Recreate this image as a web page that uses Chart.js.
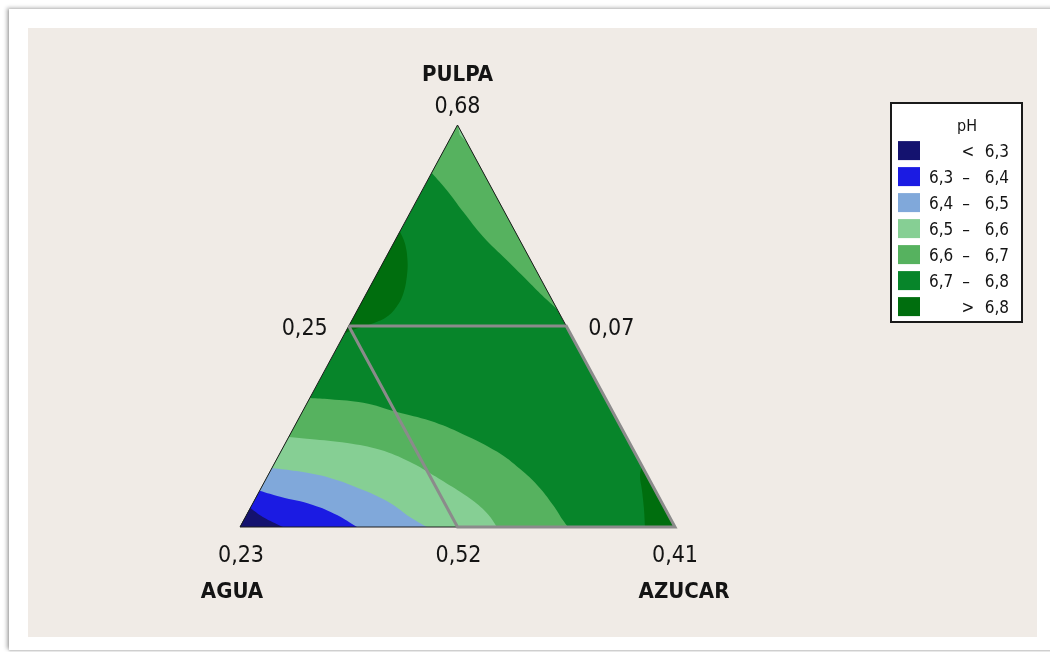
<!DOCTYPE html>
<html>
<head>
<meta charset="utf-8">
<script src="https://cdn.jsdelivr.net/npm/chart.js@4.4.1/dist/chart.umd.min.js"></script>
<style>
  html, body { margin: 0; padding: 0; background: #fff; width: 1050px; height: 652px; overflow: hidden; }
  #frame { position: absolute; left: 9px; top: 9px; width: 1060px; height: 641px; background: #fff;
           box-shadow: -2px -1px 4px rgba(0,0,0,0.32), 0 1px 2px rgba(0,0,0,0.18); }
  #panel { position: absolute; left: 28px; top: 28px; width: 1009px; height: 609px; background: #f0ebe6; }
  canvas { position: absolute; left: 0; top: 0; }
</style>
</head>
<body>
<div id="frame"></div>
<div id="panel"></div>
<canvas id="chart" width="1050" height="652"></canvas>
<script>
// Mixture components: top, bottom-left and bottom-right vertex
const components = ['PULPA', 'AGUA', 'AZUCAR'];
const vertexValues = ['0,68', '0,23', '0,41'];
// Edge midpoints: PULPA–AGUA, PULPA–AZUCAR, AGUA–AZUCAR
const edgeValues = ['0,25', '0,07', '0,52'];

// pH contour classes
const phBreaks = ['6,3', '6,4', '6,5', '6,6', '6,7', '6,8'];
const phColors = ['#14126f', '#1b1be3', '#80a8da', '#86cf94', '#56b25f', '#07852a', '#006e0e'];

// Contour lines of the fitted pH surface as [PULPA, AZUCAR] pseudo-component
// fractions (AGUA = 1 - PULPA - AZUCAR)
const ph66Top = [[0.881, 0], [0.838, 0.056], [0.784, 0.121], [0.722, 0.198], [0.664, 0.281],
                 [0.606, 0.364], [0.565, 0.423], [0.540, 0.460]];
const ph65Top = [[0.958, 0.042], [0.975, 0.018]];
const ph68Left = [[0.735, 0], [0.706, 0.026], [0.664, 0.053], [0.623, 0.072], [0.581, 0.085],
                  [0.548, 0.086], [0.523, 0.076], [0.507, 0.053], [0.494, 0.021], [0.482, 0]];
const ph67Agua = [[0.321, 0], [0.318, 0.048], [0.309, 0.129], [0.286, 0.218], [0.264, 0.305],
                  [0.231, 0.397], [0.187, 0.498], [0.144, 0.572], [0.102, 0.634], [0.055, 0.692],
                  [0.017, 0.734], [0, 0.754]];
const ph66Agua = [[0.224, 0], [0.219, 0.051], [0.209, 0.142], [0.192, 0.226], [0.162, 0.310],
                  [0.134, 0.370], [0.100, 0.438], [0.067, 0.500], [0.032, 0.554], [0, 0.591]];
const ph65Agua = [[0.147, 0], [0.139, 0.061], [0.122, 0.146], [0.092, 0.237], [0.060, 0.315],
                  [0.025, 0.378], [0, 0.430]];
const ph64Agua = [[0.090, 0], [0.075, 0.055], [0.055, 0.140], [0.030, 0.208], [0, 0.269]];
const ph63Agua = [[0.047, 0], [0.025, 0.040], [0, 0.099]];
const ph68Azucar = [[0.152, 0.848], [0.129, 0.855], [0.092, 0.878], [0.047, 0.905], [0, 0.931]];

// Constrained design region inside the simplex
const designRegion = [[0.5, 0], [0.5, 0.5], [0, 1], [0, 0.5], [0.5, 0]];

const V = { PULPA: [1, 0], AGUA: [0, 0], AZUCAR: [0, 1] };
const FONT = '"DejaVu Sans Condensed", "DejaVu Sans", sans-serif';

// Ternary composition -> plane coordinates (AGUA left, AZUCAR right, PULPA top)
const toXY = ([p, a]) => ({ x: a + p / 2, y: p });

// Repeating the end points of a contour keeps the spline straight where it
// runs along a triangle edge and smooth in the interior
const ends = line => [line[0], ...line, line[line.length - 1]];

// Filled contour bands, painted from bottom to top
const layers = [
  { c: 5, pts: [V.PULPA, V.AGUA, V.AZUCAR], t: 0 },
  { c: 4, pts: [V.PULPA, ...ends(ph66Top)], t: 0.4 },
  { c: 3, pts: [V.PULPA, ...ph65Top], t: 0 },
  { c: 6, pts: ends(ph68Left), t: 0.4 },
  { c: 4, pts: [V.AGUA, ...ends(ph67Agua)], t: 0.4 },
  { c: 3, pts: [V.AGUA, ...ends(ph66Agua)], t: 0.4 },
  { c: 2, pts: [V.AGUA, ...ends(ph65Agua)], t: 0.4 },
  { c: 1, pts: [V.AGUA, ...ends(ph64Agua)], t: 0.4 },
  { c: 0, pts: [V.AGUA, ...ends(ph63Agua)], t: 0.4 },
  { c: 6, pts: [...ends(ph68Azucar), V.AZUCAR], t: 0.4 }
];

const datasets = layers.map((l, i) => ({
  data: l.pts.map(toXY),
  showLine: true,
  fill: 'shape',
  backgroundColor: phColors[l.c],
  borderColor: 'rgba(0,0,0,0)',
  borderWidth: 0,
  pointRadius: 0,
  tension: l.t,
  order: 100 - i
}));

datasets.push({
  data: [V.PULPA, V.AGUA, V.AZUCAR, V.PULPA].map(toXY),
  showLine: true, fill: false, borderColor: '#1c1c1c', borderWidth: 1,
  pointRadius: 0, tension: 0, clip: false, order: 2
});
datasets.push({
  data: designRegion.map(toXY),
  showLine: true, fill: false, borderColor: '#8b8b8b', borderWidth: 3,
  borderJoinStyle: 'miter', pointRadius: 0, tension: 0, clip: false, order: 1
});

const ternaryLabels = {
  id: 'ternaryLabels',
  afterDatasetsDraw(chart) {
    const { ctx, scales: { x, y } } = chart;
    const pix = c => { const q = toXY(c); return [x.getPixelForValue(q.x), y.getPixelForValue(q.y)]; };
    const mid = (a, b) => [(a[0] + b[0]) / 2, (a[1] + b[1]) / 2];
    ctx.save();
    ctx.fillStyle = '#141414';
    ctx.textBaseline = 'alphabetic';

    const top = pix(V.PULPA), left = pix(V.AGUA), right = pix(V.AZUCAR);
    const mL = pix(mid(V.PULPA, V.AGUA)), mR = pix(mid(V.PULPA, V.AZUCAR)), mB = pix(mid(V.AGUA, V.AZUCAR));

    ctx.font = `23px ${FONT}`;
    ctx.textAlign = 'center';
    ctx.fillText(vertexValues[0], top[0], top[1] - 12);
    ctx.fillText(vertexValues[1], left[0] + 1, left[1] + 35);
    ctx.fillText(vertexValues[2], right[0], right[1] + 35);
    ctx.fillText(edgeValues[2], mB[0] + 1, mB[1] + 35);
    ctx.textAlign = 'right';
    ctx.fillText(edgeValues[0], mL[0] - 21, mL[1] + 9);
    ctx.textAlign = 'left';
    ctx.fillText(edgeValues[1], mR[0] + 22, mR[1] + 9);

    ctx.font = `bold 22px ${FONT}`;
    ctx.textAlign = 'center';
    ctx.fillText(components[0], top[0], top[1] - 44);
    ctx.fillText(components[1], left[0] - 8, left[1] + 71);
    ctx.fillText(components[2], right[0] + 9, right[1] + 71);
    ctx.restore();
  }
};

const contourLegend = {
  id: 'contourLegend',
  afterDraw(chart) {
    const ctx = chart.ctx;
    ctx.save();
    ctx.fillStyle = '#fff';
    ctx.fillRect(891, 103, 131, 219);
    ctx.strokeStyle = '#1a1a1a';
    ctx.lineWidth = 2;
    ctx.strokeRect(891, 103, 131, 219);

    ctx.fillStyle = '#141414';
    ctx.font = `16px ${FONT}`;
    ctx.textAlign = 'center';
    ctx.textBaseline = 'alphabetic';
    ctx.fillText('pH', 967, 131);

    ctx.font = `17px ${FONT}`;
    phColors.forEach((col, i) => {
      const cy = 150.6 + 26 * i;
      ctx.fillStyle = col;
      ctx.fillRect(898, cy - 9.5, 22, 19);
      ctx.fillStyle = '#141414';
      const base = cy + 6.5;
      if (i === 0) {
        ctx.textAlign = 'center'; ctx.fillText('<', 968, base);
        ctx.textAlign = 'right'; ctx.fillText(phBreaks[0], 1009, base);
      } else if (i === phColors.length - 1) {
        ctx.textAlign = 'center'; ctx.fillText('>', 968, base);
        ctx.textAlign = 'right'; ctx.fillText(phBreaks[phBreaks.length - 1], 1009, base);
      } else {
        ctx.textAlign = 'left'; ctx.fillText(phBreaks[i - 1], 929, base);
        ctx.textAlign = 'center'; ctx.fillText('\u2013', 966, base);
        ctx.textAlign = 'right'; ctx.fillText(phBreaks[i], 1009, base);
      }
    });
    ctx.restore();
  }
};

new Chart(document.getElementById('chart'), {
  type: 'scatter',
  data: { datasets },
  options: {
    responsive: false,
    animation: false,
    devicePixelRatio: 1,
    events: [],
    layout: { padding: { left: 240, right: 375, top: 125, bottom: 125 } },
    scales: {
      x: { type: 'linear', min: 0, max: 1, display: false },
      y: { type: 'linear', min: 0, max: 1, display: false }
    },
    plugins: { legend: { display: false }, tooltip: { enabled: false } }
  },
  plugins: [ternaryLabels, contourLegend]
});
</script>
</body>
</html>
